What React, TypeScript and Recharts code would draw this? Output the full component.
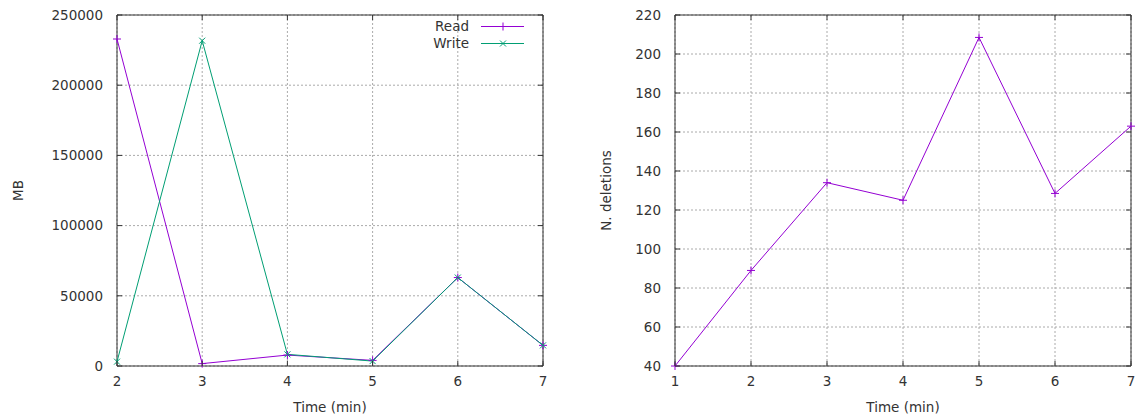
import { LineChart, Line, XAxis, YAxis, CartesianGrid, ReferenceArea } from "recharts";

// left panel: MB read/written per minute
const TIME_IO = [2, 3, 4, 5, 6, 7];
const READ_MB = [232900, 1700, 7800, 4000, 63000, 14700];
const WRITE_MB = [3100, 231700, 8300, 3500, 63000, 14700];
const IO_YTICKS = [0, 50000, 100000, 150000, 200000, 250000];
const IO_SERIES = ["Read", "Write"];

// right panel: number of deletions per minute
const TIME_DEL = [1, 2, 3, 4, 5, 6, 7];
const DELETIONS = [40, 89, 134, 125, 208.5, 128.5, 163];
const DEL_YTICKS = [40, 60, 80, 100, 120, 140, 160, 180, 200, 220];

const PURPLE = "#9400d3";
const GREEN = "#009e73";
const TEXT = "#333";
const FONT = 13.5;

const H = 417;
const TOP = 15;
const PLOT_H = 351;
const BOTTOM = TOP + PLOT_H;
const TIC = 5;

const ioData = TIME_IO.map((t, i) => ({ t, Read: READ_MB[i], Write: WRITE_MB[i] }));
const delData = TIME_DEL.map((t, i) => ({ t, del: DELETIONS[i] }));

function plusDot(p: any) {
  const { cx, cy, stroke, index } = p;
  return <path key={index} d={`M${cx - 4},${cy}h8M${cx},${cy - 4}v8`} stroke={stroke} strokeWidth={1} fill="none" />;
}

function crossDot(p: any) {
  const { cx, cy, stroke, index } = p;
  return (
    <path key={index} d={`M${cx - 3},${cy - 3}l6,6M${cx - 3},${cy + 3}l6,-6`} stroke={stroke} strokeWidth={1} fill="none" />
  );
}

// gnuplot style: labels outside, tics pointing in on all four sides
function xTick(props: any) {
  const { x, y, payload } = props;
  return (
    <g>
      <line x1={x} y1={BOTTOM} x2={x} y2={BOTTOM - TIC} stroke={TEXT} />
      <line x1={x} y1={TOP} x2={x} y2={TOP + TIC} stroke={TEXT} />
      <text x={x} y={y} dy="0.71em" textAnchor="middle" fill={TEXT} fontSize={FONT}>
        {payload.value}
      </text>
    </g>
  );
}

function makeYTick(left: number, right: number) {
  return (props: any) => {
    const { x, y, payload } = props;
    return (
      <g>
        <line x1={left} y1={y} x2={left + TIC} y2={y} stroke={TEXT} />
        <line x1={right} y1={y} x2={right - TIC} y2={y} stroke={TEXT} />
        <text x={x} y={y} dy="0.355em" textAnchor="end" fill={TEXT} fontSize={FONT}>
          {payload.value}
        </text>
      </g>
    );
  };
}

function IoLegend() {
  const colors = [PURPLE, GREEN];
  return (
    <div style={{ position: "absolute", left: 409, top: 17.5, fontSize: FONT, color: TEXT }}>
      {IO_SERIES.map((name, i) => (
        <div key={name} style={{ display: "flex", alignItems: "center", height: 17 }}>
          <span style={{ width: 60, textAlign: "right", marginRight: 12 }}>{name}</span>
          <svg width={44} height={17}>
            <line x1={0} y1={8.5} x2={43} y2={8.5} stroke={colors[i]} />
            {i === 0
              ? plusDot({ cx: 22, cy: 8.5, stroke: colors[i], index: 0 })
              : crossDot({ cx: 22, cy: 8.5, stroke: colors[i], index: 0 })}
          </svg>
        </div>
      ))}
    </div>
  );
}

export default function App() {
  const W = 568;
  return (
    <div
      style={{
        position: "absolute",
        left: 0,
        top: 0,
        width: 1136,
        height: H,
        background: "#fff",
        fontFamily: "'DejaVu Sans', sans-serif",
      }}
    >
      <div style={{ position: "absolute", left: 0, top: 0 }}>
        <LineChart width={W} height={H} data={ioData} margin={{ top: TOP, right: 25, left: 0, bottom: 0 }}>
          <CartesianGrid stroke="#aaa" strokeDasharray="2 2" />
          <XAxis
            dataKey="t"
            type="number"
            domain={[2, 7]}
            ticks={TIME_IO}
            interval={0}
            height={H - TOP - PLOT_H}
            tickSize={0}
            tickMargin={10}
            axisLine={false}
            tick={xTick}
            label={{ value: "Time (min)", position: "insideBottom", offset: 5, fill: TEXT, fontSize: FONT }}
          />
          <YAxis
            type="number"
            domain={[0, 250000]}
            ticks={IO_YTICKS}
            interval={0}
            width={117}
            tickSize={0}
            tickMargin={14}
            axisLine={false}
            tick={makeYTick(117, 543)}
            label={{
              value: "MB",
              angle: -90,
              position: "insideLeft",
              offset: 18,
              fill: TEXT,
              fontSize: FONT,
              style: { textAnchor: "middle" },
            }}
          />
          <ReferenceArea x1={2} x2={7} y1={0} y2={250000} fill="none" stroke={TEXT} strokeWidth={1} />
          <Line
            type="linear"
            dataKey="Read"
            stroke={PURPLE}
            strokeWidth={1}
            dot={plusDot}
            activeDot={false}
            isAnimationActive={false}
          />
          <Line
            type="linear"
            dataKey="Write"
            stroke={GREEN}
            strokeWidth={1}
            dot={crossDot}
            activeDot={false}
            isAnimationActive={false}
          />
        </LineChart>
        <IoLegend />
      </div>
      <div style={{ position: "absolute", left: W, top: 0 }}>
        <LineChart width={W} height={H} data={delData} margin={{ top: TOP, right: 5, left: 0, bottom: 0 }}>
          <CartesianGrid stroke="#aaa" strokeDasharray="2 2" />
          <XAxis
            dataKey="t"
            type="number"
            domain={[1, 7]}
            ticks={TIME_DEL}
            interval={0}
            height={H - TOP - PLOT_H}
            tickSize={0}
            tickMargin={10}
            axisLine={false}
            tick={xTick}
            label={{ value: "Time (min)", position: "insideBottom", offset: 5, fill: TEXT, fontSize: FONT }}
          />
          <YAxis
            type="number"
            domain={[40, 220]}
            ticks={DEL_YTICKS}
            interval={0}
            width={107}
            tickSize={0}
            tickMargin={14}
            axisLine={false}
            tick={makeYTick(107, 563)}
            label={{
              value: "N. deletions",
              angle: -90,
              position: "insideLeft",
              offset: 38,
              fill: TEXT,
              fontSize: FONT,
              style: { textAnchor: "middle" },
            }}
          />
          <ReferenceArea x1={1} x2={7} y1={40} y2={220} fill="none" stroke={TEXT} strokeWidth={1} />
          <Line
            type="linear"
            dataKey="del"
            stroke={PURPLE}
            strokeWidth={1}
            dot={plusDot}
            activeDot={false}
            isAnimationActive={false}
          />
        </LineChart>
      </div>
    </div>
  );
}
